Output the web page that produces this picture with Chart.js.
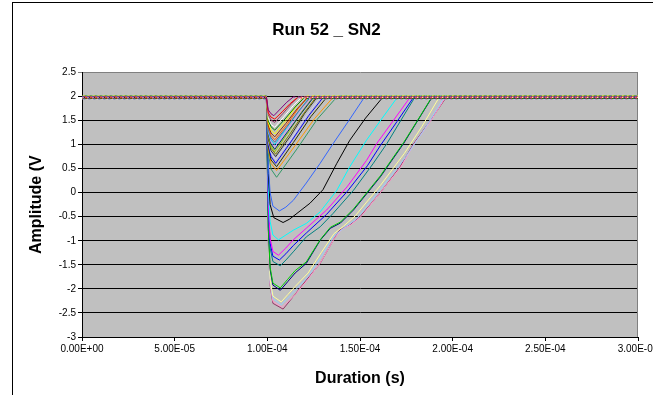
<!DOCTYPE html>
<html>
<head>
<meta charset="utf-8">
<script src="https://cdn.jsdelivr.net/npm/chart.js@4.4.1/dist/chart.umd.min.js"></script>
<style>
    html, body { margin: 0; padding: 0; background: #fff; }
</style>
</head>
<body>
<canvas id="chartRun" width="653" height="395"></canvas>
<script>
// tiempo en microsegundos, amplitud en voltios
// pulsos pequeños (grupo de arriba)
const s01 = [[0, 1.99], [99.5, 1.99], [100.5, 1.72], [102, 1.64], [103.5, 1.60], [107, 1.74], [110.5, 1.88], [114, 1.99], [300, 1.99]];
const s02 = [[0, 1.97], [99.5, 1.97], [100.5, 1.66], [102, 1.57], [104, 1.53], [108, 1.68], [112, 1.84], [116, 1.97], [300, 1.97]];
const s03 = [[0, 2.00], [99.5, 2.00], [100.5, 1.62], [102, 1.51], [104, 1.46], [108.5, 1.65], [113, 1.85], [117, 2.00], [300, 2.00]];
const s04 = [[0, 1.98], [99.5, 1.98], [100.5, 1.55], [102, 1.42], [104, 1.36], [109, 1.58], [114, 1.81], [118.5, 1.98], [300, 1.98]];
const s05 = [[0, 1.96], [99.5, 1.96], [100.5, 1.50], [102, 1.37], [104, 1.30], [109.5, 1.53], [115, 1.78], [119.5, 1.96], [300, 1.96]];
const s06 = [[0, 2.01], [99.5, 2.01], [100.5, 1.46], [102, 1.30], [104, 1.22], [110, 1.50], [115.5, 1.79], [120.5, 2.01], [300, 2.01]];
const s07 = [[0, 1.97], [99.5, 1.97], [100.5, 1.40], [102, 1.24], [104, 1.16], [110, 1.44], [116, 1.74], [121.5, 1.97], [300, 1.97]];
const s08 = [[0, 1.99], [99.5, 1.99], [100.5, 1.37], [102, 1.19], [104, 1.10], [110.5, 1.41], [116.5, 1.74], [122, 1.99], [300, 1.99]];
const s09 = [[0, 1.95], [99.5, 1.95], [100.5, 1.32], [102, 1.14], [104, 1.05], [110.5, 1.37], [117, 1.70], [122.5, 1.95], [300, 1.95]];
const s10 = [[0, 2.00], [99.5, 2.00], [100.5, 1.30], [102, 1.10], [104, 1.00], [110.5, 1.35], [117.5, 1.72], [123, 2.00], [300, 2.00]];
const s11 = [[0, 1.98], [99.5, 1.98], [100.5, 1.26], [102, 1.05], [104, 0.95], [111, 1.31], [118, 1.69], [124, 1.98], [300, 1.98]];
const s12 = [[0, 1.96], [99.5, 1.96], [100.5, 1.22], [102, 1.01], [104, 0.90], [111, 1.27], [118.5, 1.66], [124.5, 1.96], [300, 1.96]];
const s13 = [[0, 2.01], [99.5, 2.01], [100.5, 1.20], [102, 0.97], [104, 0.85], [111.5, 1.26], [118.5, 1.68], [125, 2.01], [300, 2.01]];
const s14 = [[0, 1.97], [99.5, 1.97], [100.5, 1.15], [102, 0.92], [104.5, 0.80], [112, 1.21], [119.5, 1.64], [126, 1.97], [300, 1.97]];
const s15 = [[0, 1.99], [99.5, 1.99], [100.5, 1.12], [102, 0.87], [104.5, 0.75], [112.5, 1.18], [120, 1.64], [127, 1.99], [300, 1.99]];
const s16 = [[0, 1.95], [99.5, 1.95], [100.5, 1.07], [102, 0.82], [104.5, 0.69], [113, 1.13], [121, 1.60], [128, 1.95], [300, 1.95]];
const s17 = [[0, 2.00], [99.5, 2.00], [100.5, 1.03], [102, 0.75], [104.5, 0.61], [113.5, 1.10], [122.5, 1.61], [130.5, 2.00], [300, 2.00]];
const s18 = [[0, 1.98], [99.5, 1.98], [100.5, 0.97], [102, 0.68], [105, 0.54], [114, 1.04], [123.5, 1.58], [132, 1.98], [300, 1.98]];
const s19 = [[0, 1.96], [99.5, 1.96], [100.5, 0.91], [102, 0.61], [105, 0.46], [115, 0.98], [125.5, 1.54], [135, 1.96], [300, 1.96]];
const s20 = [[0, 2.01], [99.5, 2.01], [100.5, 0.83], [102, 0.49], [105, 0.32], [116, 0.91], [127, 1.53], [138, 2.01], [300, 2.01]];
// pulsos grandes
const s21 = [[0, 1.99], [99.5, 1.99], [100.5, 0.60], [101.5, 0.00], [103, -0.28], [106.5, -0.38], [110, -0.30], [114, -0.16], [121, 0.20], [128.5, 0.61], [135.5, 1.02], [144, 1.50], [152.5, 1.99], [300, 1.99]];
const s22 = [[0, 1.97], [99.5, 1.97], [100.5, 0.40], [101.5, -0.25], [103.5, -0.52], [108.5, -0.62], [112, -0.55], [116, -0.43], [123, -0.22], [130, 0.06], [137.5, 0.61], [144.5, 1.09], [153, 1.55], [162, 1.97], [300, 1.97]];
const s23 = [[0, 2.00], [99.5, 2.00], [100.5, 0.10], [101.5, -0.60], [103, -0.88], [106, -0.98], [110, -0.88], [114, -0.78], [121, -0.64], [128.5, -0.40], [137.5, 0.05], [144.5, 0.54], [153.5, 1.09], [162, 1.55], [170.5, 2.00], [300, 2.00]];
const s24 = [[0, 1.98], [99.5, 1.98], [100.5, -0.20], [101.5, -0.95], [103, -1.22], [106, -1.30], [110, -1.15], [114, -0.98], [121, -0.74], [132, -0.36], [143, 0.12], [153.5, 0.67], [159, 1.02], [168, 1.50], [177, 1.98], [300, 1.98]];
const s25 = [[0, 1.96], [99.5, 1.96], [100.5, -0.30], [101.5, -1.05], [103, -1.32], [106.5, -1.40], [110, -1.27], [114, -1.10], [121, -0.84], [132, -0.45], [143, 0.02], [154, 0.56], [161, 0.98], [170, 1.48], [178.5, 1.96], [300, 1.96]];
const s26 = [[0, 2.01], [99.5, 2.01], [100.5, -0.40], [101.5, -1.15], [103, -1.43], [107, -1.52], [110.5, -1.38], [114, -1.23], [121, -0.92], [128.5, -0.71], [135.5, -0.43], [146.5, 0.05], [157, 0.60], [164.5, 1.02], [172, 1.50], [180, 2.01], [300, 2.01]];
const s27 = [[0, 1.97], [99.5, 1.97], [100.5, -0.70], [101.5, -1.55], [103, -1.88], [107, -1.98], [111, -1.80], [115, -1.62], [121, -1.44], [128.5, -0.98], [134, -0.72], [139.5, -0.61], [146.5, -0.34], [161, 0.35], [173.5, 1.04], [181, 1.50], [188.5, 1.97], [300, 1.97]];
const s28 = [[0, 1.99], [99.5, 1.99], [100.5, -0.75], [101.5, -1.60], [103, -1.92], [107, -2.03], [111, -1.85], [115, -1.67], [121, -1.47], [128.5, -0.99], [134, -0.74], [139.5, -0.63], [146.5, -0.36], [161, 0.33], [173.5, 1.02], [181, 1.49], [189, 1.99], [300, 1.99]];
const s29 = [[0, 2.00], [99.5, 2.00], [100.5, -0.90], [101.5, -1.80], [103, -2.15], [107.5, -2.27], [111, -2.12], [115, -1.95], [122, -1.67], [129, -1.25], [136, -0.85], [141, -0.70], [147.5, -0.48], [161, 0.15], [174, 0.82], [183.5, 1.38], [193, 2.00], [300, 2.00]];
const s30 = [[0, 1.96], [99.5, 1.96], [100.5, -0.95], [101.5, -1.85], [103, -2.20], [107.5, -2.33], [111, -2.19], [115, -2.03], [122, -1.74], [129, -1.33], [136, -0.90], [141.5, -0.73], [148, -0.55], [161, 0.07], [175, 0.76], [185, 1.33], [195, 1.96], [300, 1.96]];
const s31 = [[0, 1.98], [99.5, 1.98], [100.5, -1.00], [101.5, -1.90], [103, -2.26], [108, -2.38], [111.5, -2.25], [115, -2.12], [122, -1.80], [129, -1.43], [136, -0.96], [140, -0.77], [145, -0.67], [150.5, -0.50], [161, 0.00], [172, 0.53], [179, 1.00], [188, 1.48], [196, 1.98], [300, 1.98]];
const s32 = [[0, 2.01], [99.5, 2.01], [100.5, -1.00], [101.5, -1.92], [103, -2.30], [108.5, -2.42], [114, -2.16], [121, -1.82], [128.5, -1.47], [135.5, -0.99], [139, -0.78], [144.5, -0.67], [150, -0.50], [161, 0.00], [171.5, 0.53], [179, 1.02], [188, 1.50], [197, 2.01], [300, 2.01]];

const series = [s01, s02, s03, s04, s05, s06, s07, s08, s09, s10, s11, s12, s13, s14, s15, s16,
                s17, s18, s19, s20, s21, s22, s23, s24, s25, s26, s27, s28, s29, s30, s31, s32];

const seriesColors = [
    "#800080", "#FF0000", "#993366", "#FFFFFF", "#008000", "#FFFF00", "#993300", "#FF6600",
    "#666699", "#00CCFF", "#CC99FF", "#003366", "#99CC00", "#808000", "#333333", "#CCCCFF",
    "#0000FF", "#333300", "#FF9900", "#339966", "#3366FF", "#000000", "#00FFFF", "#FF00FF",
    "#0000FF", "#008080", "#00CC00", "#000080", "#FFFF99", "#99CCFF", "#FF99CC", "#993366"
];

const xRangeUs = [0, 300];
const xStepUs = 50;
const yRange = [-3, 2.5];
const yStep = 0.5;

const FONT = "'Liberation Sans', Arial, sans-serif";

function sci(us) {
    const v = us * 1e-6;
    if (v === 0) return "0.00E+00";
    const parts = v.toExponential(2).split("e");
    const exp = parseInt(parts[1], 10);
    return parts[0] + "E" + (exp < 0 ? "-" : "+") + String(Math.abs(exp)).padStart(2, "0");
}

const excelFrame = {
    id: "excelFrame",
    beforeDraw(chart) {
        const { ctx, chartArea: a } = chart;
        ctx.save();
        ctx.fillStyle = "#ffffff";
        ctx.fillRect(0, 0, chart.width, chart.height);
        ctx.strokeStyle = "#000000";
        ctx.lineWidth = 1;
        ctx.strokeRect(12.5, 2.5, chart.width + 50, chart.height + 50);
        ctx.fillStyle = "#c0c0c0";
        ctx.fillRect(a.left, a.top, a.right - a.left, a.bottom - a.top);
        ctx.restore();
    },
    beforeDatasetsDraw(chart) {
        const { ctx, chartArea: a } = chart;
        ctx.save();
        ctx.strokeStyle = "#808080";
        ctx.lineWidth = 1;
        ctx.beginPath();
        ctx.moveTo(a.right - 0.5, a.top);
        ctx.lineTo(a.right - 0.5, a.bottom);
        ctx.stroke();
        ctx.restore();
    }
};

const datasets = series.map((pts, i) => ({
    label: "Series" + (i + 1),
    data: pts.map(p => ({ x: p[0], y: p[1] })),
    borderColor: seriesColors[i],
    borderWidth: 1,
    pointRadius: 0,
    fill: false,
    tension: 0,
    segment: {
        borderDash: c => (c.p0.parsed.y > 1.93 && c.p1.parsed.y > 1.93) ? [2, 3] : undefined,
        borderDashOffset: c => (c.p0.parsed.y > 1.93 && c.p1.parsed.y > 1.93) ? (i * 1.7) % 5 : undefined
    }
}));

new Chart(document.getElementById("chartRun"), {
    type: "line",
    data: { datasets: datasets },
    plugins: [excelFrame],
    options: {
        responsive: false,
        animation: false,
        layout: { padding: { left: 15, right: 15, top: 0, bottom: 0 } },
        plugins: {
            legend: { display: false },
            tooltip: { enabled: false },
            title: {
                display: true,
                text: "Run 52 _ SN2",
                color: "#000",
                font: { family: FONT, size: 17, weight: "bold" },
                padding: { top: 20, bottom: 32 }
            }
        },
        scales: {
            x: {
                type: "linear",
                min: xRangeUs[0],
                max: xRangeUs[1],
                afterFit: s => { s.height = 58; s.paddingLeft = 0; s.paddingRight = 0; },
                ticks: {
                    stepSize: xStepUs,
                    autoSkip: false,
                    maxRotation: 0,
                    padding: 2,
                    color: "#000",
                    font: { family: FONT, size: 10 },
                    callback: v => sci(v)
                },
                grid: { drawOnChartArea: false, drawTicks: true, tickLength: 4, color: "#000" },
                border: { display: true, color: "#000", width: 1 },
                title: {
                    display: true,
                    text: "Duration (s)",
                    color: "#000",
                    font: { family: FONT, size: 16, weight: "bold" },
                    padding: { top: 0, bottom: 7 }
                }
            },
            y: {
                min: yRange[0],
                max: yRange[1],
                afterFit: s => { s.width = 67; s.paddingTop = 0; s.paddingBottom = 0; },
                ticks: {
                    stepSize: yStep,
                    padding: 2,
                    color: "#000",
                    font: { family: FONT, size: 10 },
                    callback: v => String(v)
                },
                grid: {
                    drawTicks: true,
                    tickLength: 4,
                    lineWidth: 1,
                    color: c => (c.tick && c.tick.value === yRange[1]) ? "#808080" : "#000"
                },
                border: { display: true, color: "#000", width: 1 },
                title: {
                    display: true,
                    text: "Amplitude (V",
                    color: "#000",
                    font: { family: FONT, size: 16, weight: "bold" },
                    padding: { top: 12, bottom: 0 }
                }
            }
        }
    }
});
</script>
</body>
</html>
